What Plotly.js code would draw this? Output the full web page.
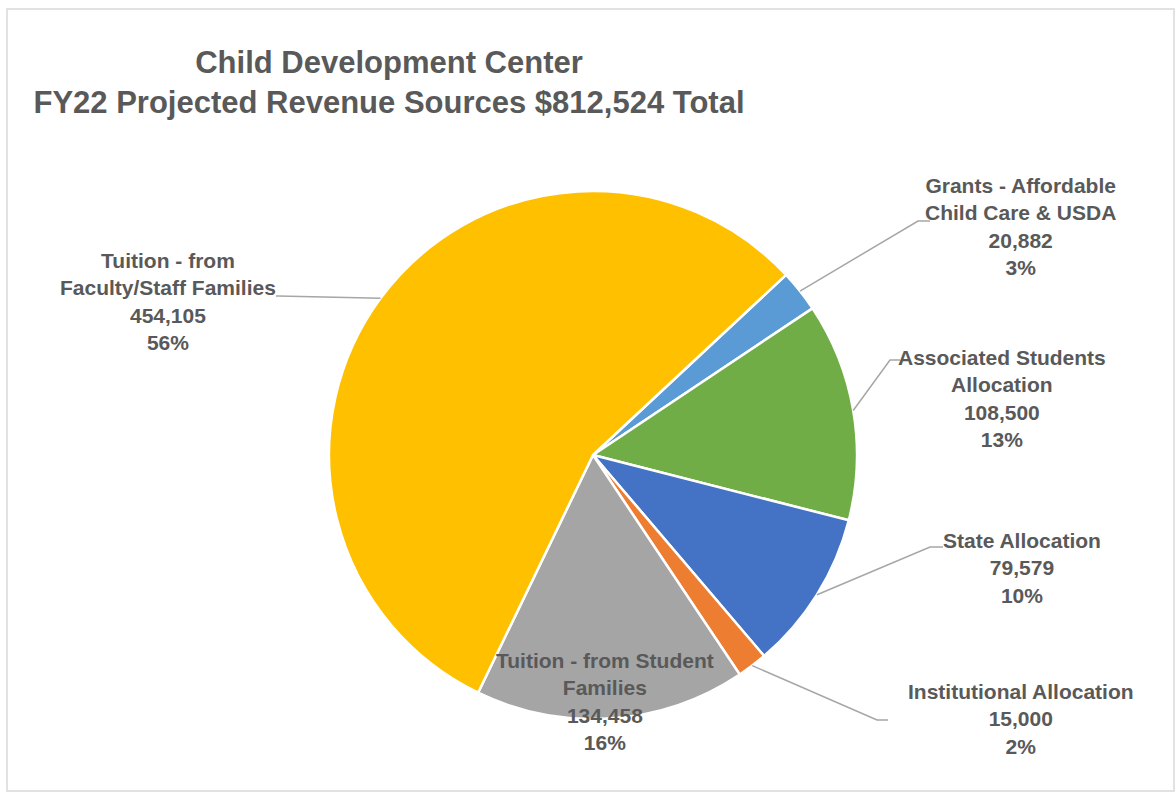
<!DOCTYPE html>
<html>
<head>
<meta charset="utf-8">
<script src="https://cdn.plot.ly/plotly-3.0.1.min.js"></script>
<style>html,body{margin:0;padding:0;background:#fff;}#chart{width:1176px;height:794px;}</style>
</head>
<body>
<div id="chart"></div>
<script>
// ---- data ----
const categories = [
  'Grants - Affordable Child Care & USDA',
  'Associated Students Allocation',
  'State Allocation',
  'Institutional Allocation',
  'Tuition - from Student Families',
  'Tuition - from Faculty/Staff Families'
];
const labelLines = [
  'Grants - Affordable<br>Child Care & USDA',
  'Associated Students<br>Allocation',
  'State Allocation',
  'Institutional Allocation',
  'Tuition - from Student<br>Families',
  'Tuition - from<br>Faculty/Staff Families'
];
const values = [20882, 108500, 79579, 15000, 134458, 454105];
const percentLabels = [3, 13, 10, 2, 16, 56];   // as printed on the chart
const colors = ['#5B9BD5', '#70AD47', '#4472C4', '#ED7D31', '#A5A5A5', '#FFC000'];
const titleText = 'Child Development Center<br>FY22 Projected Revenue Sources $812,524 Total';

// ---- layout geometry (pixels) ----
const W = 1176, H = 794;
const CX = 593, CY = 455, R = 264;
const ROTATION = 47;
// label centre positions and leader elbows (pixels)
const labelPos = [
  {x: 1020, y: 227, elbow: [918, 221], end: 930},
  {x: 1002, y: 398, elbow: [890, 360], end: 900},
  {x: 1022, y: 568, elbow: [930, 547], end: 943},
  {x: 1021, y: 719, elbow: [877, 720], end: 888},
  {x: 605,  y: 701, elbow: null, end: null},
  {x: 168,  y: 302, elbow: [278, 296], end: 276}
];

const px = x => x / W;
const py = y => 1 - y / H;

const total = values.reduce((a, b) => a + b, 0);
let acc = 0;
const annotations = [];
const shapes = [];
values.forEach((v, i) => {
  const mid = (ROTATION + (acc + v / 2) / total * 360) * Math.PI / 180;
  acc += v;
  const ex = CX + R * Math.sin(mid), ey = CY - R * Math.cos(mid);
  const lp = labelPos[i];
  annotations.push({
    x: px(lp.x), y: py(lp.y), xref: 'paper', yref: 'paper',
    xanchor: 'center', yanchor: 'middle', showarrow: false, align: 'center',
    text: labelLines[i] + '<br>' + v.toLocaleString('en-US') + '<br>' + percentLabels[i] + '%',
    font: {family: 'Liberation Sans, Arial, sans-serif', size: 21, color: '#595959', weight: 'bold'}
  });
  if (lp.elbow) {
    shapes.push({
      type: 'path', xref: 'paper', yref: 'paper',
      path: 'M' + px(ex) + ',' + py(ey) + ' L' + px(lp.elbow[0]) + ',' + py(lp.elbow[1]) + ' L' + px(lp.end) + ',' + py(lp.elbow[1]),
      line: {color: '#A6A6A6', width: 1.5}
    });
  }
});

// chart border
shapes.push({type: 'rect', xref: 'paper', yref: 'paper', x0: px(7), x1: px(1174), y0: py(791), y1: py(9),
  line: {color: '#D9D9D9', width: 1.5}, fillcolor: 'rgba(0,0,0,0)', layer: 'below'});

const trace = {
  type: 'pie',
  labels: categories,
  values: values,
  sort: false,
  direction: 'clockwise',
  rotation: ROTATION,
  textinfo: 'none',
  hoverinfo: 'label+value',
  marker: {colors: colors, line: {color: '#FFFFFF', width: 2.5}},
  domain: {x: [px(CX - R), px(CX + R)], y: [py(CY + R), py(CY - R)]},
  showlegend: false
};

const layout = {
  width: W, height: H,
  margin: {l: 0, r: 0, t: 0, b: 0},
  paper_bgcolor: '#FFFFFF',
  title: {
    text: titleText,
    x: px(389), xref: 'paper', xanchor: 'center',
    y: py(72.5), yref: 'container', yanchor: 'middle',
    font: {family: 'Liberation Sans, Arial, sans-serif', size: 31, color: '#595959', weight: 'bold'}
  },
  annotations: annotations,
  shapes: shapes,
  showlegend: false
};

Plotly.newPlot('chart', [trace], layout, {displayModeBar: false, staticPlot: true});
</script>
</body>
</html>
